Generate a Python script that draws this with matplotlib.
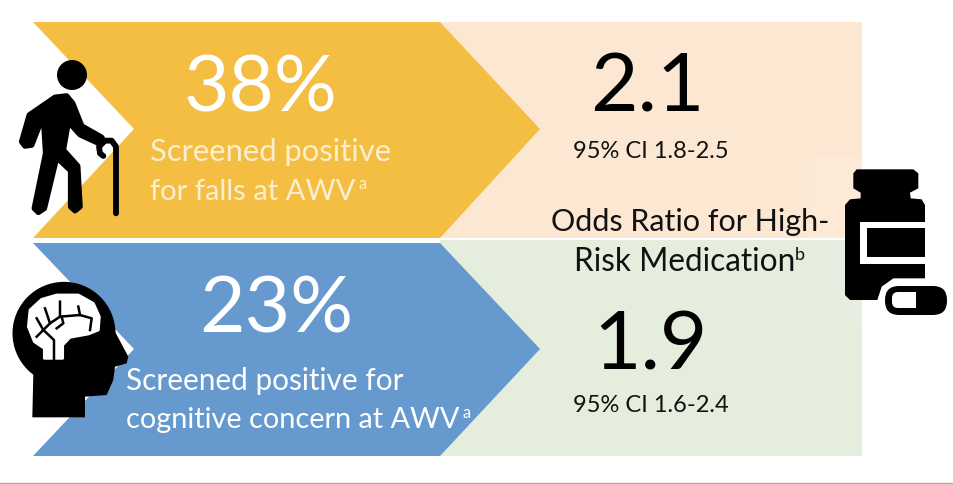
import matplotlib
matplotlib.use("Agg")
import matplotlib.pyplot as plt
from matplotlib.patches import Polygon, Circle, Rectangle, FancyBboxPatch

plt.rcParams['font.family'] = ['Lato', 'DejaVu Sans']

# Values shown on the picture
percents = ["38%", "23%"]
odds_ratios = ["2.1", "1.9"]
intervals = ["95% CI 1.8-2.5", "95% CI 1.6-2.4"]
falls_lines = ["Screened positive", "for falls at AWV"]
cognitive_lines = ["Screened positive for", "cognitive concern at AWV"]
middle_lines = ["Odds Ratio for High-", "Risk Medication"]

YELLOW = "#F4BE42"
BLUE = "#6699CE"
PEACH = "#FCE7D2"
GREEN = "#E5EDDD"

fig = plt.figure(figsize=(9.54, 4.84), dpi=100)
ax = fig.add_axes([0, 0, 1, 1])
ax.set_xlim(0, 954)
ax.set_ylim(484, 0)
ax.axis("off")

# pale panels behind the arrows
ax.add_patch(Rectangle((440, 22), 422, 216, color=PEACH, lw=0))
ax.add_patch(Rectangle((440, 240), 422, 216, color=GREEN, lw=0))
ax.add_patch(Rectangle((810, 155), 52, 173, color="white", alpha=0.1, lw=0))


def chevron(top, mid, bottom, color):
    pts = [(33, top), (440, top), (540, mid), (440, bottom), (33, bottom), (134, mid)]
    ax.add_patch(Polygon(pts, closed=True, color=color, lw=0))


chevron(22, 129, 238, YELLOW)
chevron(243, 349, 456, BLUE)

# bottom rule
ax.plot([0, 954], [482.5, 482.5], color="#ABABAB", lw=1)


def crop(points, x0, y0):
    return [(x0 + x / 3, y0 + y / 3) for x, y in points]


# person with cane
ax.add_patch(Circle((72, 75), 15, color="black", lw=0))
body = [(165, 172), (200, 168), (218, 190), (245, 258), (305, 292), (312, 305), (292, 308),
        (240, 284), (205, 245), (190, 330), (233, 378), (240, 500), (225, 512), (212, 500),
        (212, 392), (170, 352), (133, 505), (115, 517), (103, 505), (137, 340), (130, 225),
        (95, 315), (75, 318), (65, 305), (88, 225)]
ax.add_patch(Polygon(crop(body, 0, 40), closed=True, facecolor="black", edgecolor="black", lw=4,
                     joinstyle="round"))
cane = crop([(348, 520), (348, 320), (335, 302), (315, 302), (297, 320), (300, 340), (310, 348)], 0, 40)
ax.plot([p[0] for p in cane], [p[1] for p in cane], color="black", lw=4.2, solid_capstyle="round",
        solid_joinstyle="round")

# head with brain
skull = crop([(192, 220)], 0, 260)[0]
ax.add_patch(Circle(skull, 51.5, color="black", lw=0))
head = [(100, 340), (190, 100), (325, 150), (345, 215), (385, 290), (380, 310), (345, 320), (340, 360),
        (320, 405), (255, 410), (255, 472), (97, 472)]
ax.add_patch(Polygon(crop(head, 0, 260), closed=True, color="black", lw=0))
brain = [(90, 150), (125, 118), (170, 105), (235, 105), (280, 130), (298, 170), (295, 210),
         (265, 222), (210, 232), (188, 255), (188, 295), (133, 295), (133, 265), (103, 245), (85, 200)]
ax.add_patch(Polygon(crop(brain, 0, 260), closed=True, facecolor="white", edgecolor="white", lw=2,
                     joinstyle="round"))
veins = [
    [(162, 298), (162, 240), (130, 210), (110, 175)],
    [(130, 210), (150, 190), (135, 145)],
    [(150, 190), (180, 170), (180, 125)],
    [(180, 170), (240, 165), (275, 175), (270, 210)],
    [(240, 165), (235, 140)],
    [(185, 170), (190, 190), (170, 205)],
    [(110, 230), (130, 210)],
]
for vein in veins:
    v = crop(vein, 0, 260)
    ax.plot([p[0] for p in v], [p[1] for p in v], color="black", lw=1.8)

# pill bottle
bottle = [(200, 88), (370, 88), (385, 100), (385, 145), (360, 158), (362, 175), (395, 178),
          (405, 195), (405, 415), (310, 415), (275, 440), (262, 480), (180, 480), (165, 465),
          (165, 195), (180, 178), (212, 175), (212, 158), (190, 145), (190, 100)]
ax.add_patch(Polygon(crop(bottle, 790, 140), closed=True, color="black", lw=0))
ax.add_patch(Polygon(crop([(210, 245), (406, 245), (406, 372), (210, 372)], 790, 140), closed=True, color="white", lw=0))
ax.add_patch(Polygon(crop([(232, 265), (405, 265), (405, 350), (232, 350)], 790, 140), closed=True, color="black", lw=0))
ax.add_patch(FancyBboxPatch((885, 286), 62, 29, boxstyle="round,pad=0,rounding_size=14", color="black", lw=0))
ax.add_patch(FancyBboxPatch((892, 292), 24, 16, boxstyle="round,pad=0,rounding_size=6", color="white", lw=0))
ax.add_patch(Rectangle((908, 292), 8, 16, color="white", lw=0))

# big percentages
ax.text(261, 90, percents[0], color="white", fontsize=56.5, ha="center", va="center")
ax.text(276, 311, percents[1], color="white", fontsize=56.5, ha="center", va="center")

# arrow captions
ax.text(150, 152, falls_lines[0], color="#FBEFD0", fontsize=22.3, ha="left", va="center")
ax.text(150, 192, falls_lines[1], color="#FBEFD0", fontsize=21, ha="left", va="center")
ax.text(359, 184, "a", color="#FBEFD0", fontsize=12, ha="left", va="center")
ax.text(126, 381, cognitive_lines[0], color="white", fontsize=21.4, ha="left", va="center")
ax.text(126, 420, cognitive_lines[1], color="white", fontsize=20.8, ha="left", va="center")
ax.text(463, 413, "a", color="white", fontsize=12, ha="left", va="center")

# odds ratios
ax.text(647, 89, odds_ratios[0], color="black", fontsize=59, ha="center", va="center")
ax.text(650, 346, odds_ratios[1], color="black", fontsize=59, ha="center", va="center")
ax.text(651, 151, intervals[0], color="#111111", fontsize=17, ha="center", va="center")
ax.text(651, 406, intervals[1], color="#111111", fontsize=17, ha="center", va="center")

ax.text(690, 222, middle_lines[0], color="#111111", fontsize=22, ha="center", va="center")
ax.text(574, 262, middle_lines[1], color="#111111", fontsize=22.7, ha="left", va="center")
ax.text(795, 255, "b", color="#111111", fontsize=13, ha="left", va="center")

fig.savefig("out.png", dpi=100)
